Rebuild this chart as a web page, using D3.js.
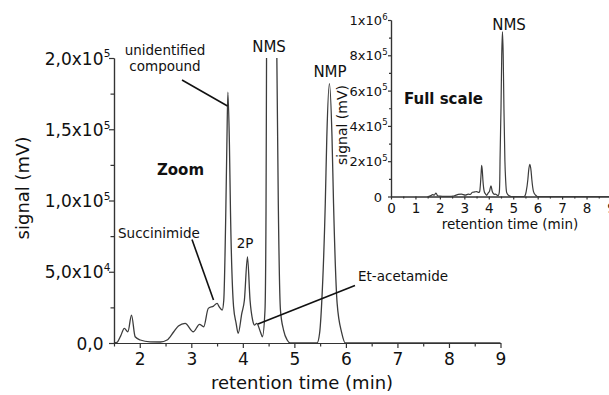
<!DOCTYPE html>
<html>
<head>
<meta charset="utf-8">
<script src="https://cdn.jsdelivr.net/npm/d3@7"></script>
<style>
  body { margin: 0; background: #fff; }
  text { font-family: "DejaVu Sans", sans-serif; fill: #111; }
</style>
</head>
<body>
<div id="chart"></div>
<script>
(function(){

// chromatogram: retention time (min) and signal (mV)
var times = [1.50, 1.56, 1.63, 1.70, 1.77, 1.84, 1.91, 2.01, 2.20, 2.40, 2.53, 2.66, 2.75, 2.88,
             3.04, 3.16, 3.24, 3.33, 3.43, 3.50, 3.54, 3.60, 3.63, 3.67, 3.69, 3.71, 3.74, 3.76,
             3.82, 3.87, 3.91, 3.98, 4.03, 4.09, 4.14, 4.19, 4.23, 4.27, 4.34, 4.38, 4.43, 4.45,
             4.46, 4.50, 4.53, 4.56, 4.59, 4.62, 4.66, 4.69, 4.73, 4.79, 4.86, 4.92, 5.20, 5.44,
             5.49, 5.53, 5.60, 5.63, 5.68, 5.73, 5.76, 5.83, 5.92, 5.99, 6.50, 7.50, 9.00];
var signal = [0, 500, 5000, 10300, 7900, 19600, 4400, 2100, 800, 700, 2100, 7900, 11900, 13800,
              7900, 13100, 11400, 24300, 25900, 27800, 25500, 23100, 30000, 93000, 139000, 176000, 139000, 93000,
              25500, 13800, 6800, 20800, 30000, 60500, 30000, 16100, 12600, 13800, 7900, 4400, 23100, 93000,
              200000, 500000, 800000, 934000, 800000, 500000, 200000, 93000, 23100, 9100, 2100, 0, 0, 0,
              7000, 27800, 98000, 145000, 182000, 145000, 98000, 27800, 7000, 0, 0, 0, 0];

// main (zoomed) axes
var xTicks = [2, 3, 4, 5, 6, 7, 8, 9];
var yTickVals = [0, 50000, 100000, 150000, 200000];
var yTickBase = ["0,0", "5,0x10", "1,0x10", "1,5x10", "2,0x10"];
var yTickExp = ["", "4", "5", "5", "5"];

// inset (full scale) axes
var insetXTicks = [0, 1, 2, 3, 4, 5, 6, 7, 8, 9];
var insetYTickVals = [0, 200000, 400000, 600000, 800000, 1000000];
var insetYTickBase = ["0", "2x10", "4x10", "6x10", "8x10", "1x10"];
var insetYTickExp = ["", "5", "5", "5", "5", "6"];

var data = times.map(function(t, i) { return {t: t, v: signal[i]}; });

var svg = d3.select("#chart")
  .append("svg")
    .attr("width", 609)
    .attr("height", 395);

var x = d3.scaleLinear().domain([1.5, 9]).range([114, 500.5]);
var y = d3.scaleLinear().domain([0, 200000]).range([343, 58]);

svg.append("clipPath").attr("id", "mainclip")
  .append("rect")
    .attr("x", 114).attr("y", 58)
    .attr("width", 390).attr("height", 290);

var line = d3.line()
    .x(function(d) { return x(d.t); })
    .y(function(d) { return y(d.v); })
    .curve(d3.curveMonotoneX);

svg.append("path")
    .datum(data)
    .attr("clip-path", "url(#mainclip)")
    .attr("fill", "none")
    .attr("stroke", "#3c3c3c")
    .attr("stroke-width", 1.3)
    .attr("d", line);

function styleAxis(g) {
  g.selectAll("path, line").attr("stroke", "#333").attr("stroke-width", 1.2);
  g.selectAll("text").style("font-family", "DejaVu Sans, sans-serif").attr("fill", "#111");
}

// minor ticks
svg.append("g")
    .attr("transform", "translate(0,343)")
    .call(d3.axisBottom(x).tickValues(d3.range(1.5, 9, 1)).tickSize(3.5).tickSizeOuter(0).tickFormat(""))
    .call(styleAxis);
svg.append("g")
    .attr("transform", "translate(114,0)")
    .call(d3.axisLeft(y).tickValues(d3.range(25000, 200000, 50000)).tickSize(3.5).tickSizeOuter(0).tickFormat(""))
    .call(styleAxis);

// major ticks
svg.append("g")
    .attr("transform", "translate(0,343)")
    .call(d3.axisBottom(x).tickValues(xTicks).tickSize(5).tickSizeOuter(0).tickPadding(5))
    .call(styleAxis)
    .selectAll("text").style("font-size", "17px");

var yAxis = svg.append("g")
    .attr("transform", "translate(114,0)")
    .call(d3.axisLeft(y).tickValues(yTickVals).tickSize(5).tickSizeOuter(0).tickFormat(""))
    .call(styleAxis);

function sciLabels(g, base, exp, off, size, supSize, dy) {
  g.selectAll(".tick").each(function(d, i) {
    var t = d3.select(this);
    t.append("text")
        .attr("x", -off).attr("y", dy)
        .attr("text-anchor", "end")
        .style("font-size", size + "px")
        .text(base[i]);
    if (exp[i]) {
      t.append("text")
          .attr("x", -off + 0.3).attr("y", dy - size * 0.42)
          .attr("text-anchor", "start")
          .style("font-size", supSize + "px")
          .text(exp[i]);
    }
  });
}
sciLabels(yAxis, yTickBase, yTickExp, 10.5, 17, 10.5, 6);

svg.append("text")
    .attr("x", 302).attr("y", 389)
    .attr("text-anchor", "middle")
    .style("font-size", "18px")
    .text("retention time (min)");

svg.append("text")
    .attr("transform", "translate(29,188) rotate(-90)")
    .attr("text-anchor", "middle")
    .style("font-size", "18px")
    .text("signal (mV)");

// peak annotations
var notes = svg.append("g");
notes.append("text").attr("x", 165).attr("y", 55).attr("text-anchor", "middle")
    .style("font-size", "13.5px").text("unidentified");
notes.append("text").attr("x", 165).attr("y", 71).attr("text-anchor", "middle")
    .style("font-size", "13.5px").text("compound");
notes.append("text").attr("x", 269).attr("y", 52).attr("text-anchor", "middle")
    .style("font-size", "15px").text("NMS");
notes.append("text").attr("x", 330).attr("y", 77).attr("text-anchor", "middle")
    .style("font-size", "15px").text("NMP");
notes.append("text").attr("x", 180.5).attr("y", 175).attr("text-anchor", "middle")
    .style("font-size", "15px").style("font-weight", "bold").text("Zoom");
notes.append("text").attr("x", 118).attr("y", 238)
    .style("font-size", "13.5px").text("Succinimide");
notes.append("text").attr("x", 245).attr("y", 248).attr("text-anchor", "middle")
    .style("font-size", "13.5px").text("2P");
notes.append("text").attr("x", 358).attr("y", 281)
    .style("font-size", "13.5px").text("Et-acetamide");

var pointers = [[182, 80, 227.5, 106], [192, 239.5, 213.5, 300], [355, 285.5, 258, 324]];
notes.selectAll("line")
    .data(pointers).enter()
    .append("line")
      .attr("x1", function(d) { return d[0]; })
      .attr("y1", function(d) { return d[1]; })
      .attr("x2", function(d) { return d[2]; })
      .attr("y2", function(d) { return d[3]; })
      .attr("stroke", "#111")
      .attr("stroke-width", 1.6);

// inset: full scale
var xi = d3.scaleLinear().domain([0, 9]).range([391, 611]);
var yi = d3.scaleLinear().domain([0, 1000000]).range([196.5, 20]);

svg.append("g")
    .attr("transform", "translate(0,196.5)")
    .call(d3.axisBottom(xi).tickValues(d3.range(0.5, 9, 1)).tickSize(2).tickSizeOuter(0).tickFormat(""))
    .call(styleAxis);
svg.append("g")
    .attr("transform", "translate(391,0)")
    .call(d3.axisLeft(yi).tickValues(d3.range(100000, 1000000, 200000)).tickSize(2).tickSizeOuter(0).tickFormat(""))
    .call(styleAxis);

svg.append("g")
    .attr("transform", "translate(0,196.5)")
    .call(d3.axisBottom(xi).tickValues(insetXTicks).tickSize(3).tickSizeOuter(0).tickPadding(4))
    .call(styleAxis)
    .selectAll("text").style("font-size", "13.5px");

var yiAxis = svg.append("g")
    .attr("transform", "translate(391,0)")
    .call(d3.axisLeft(yi).tickValues(insetYTickVals).tickSize(3).tickSizeOuter(0).tickFormat(""))
    .call(styleAxis);
sciLabels(yiAxis, insetYTickBase, insetYTickExp, 9, 13, 8.5, 4.5);

var linei = d3.line()
    .x(function(d) { return xi(d.t); })
    .y(function(d) { return yi(d.v); })
    .curve(d3.curveMonotoneX);

svg.append("path")
    .datum(data)
    .attr("fill", "none")
    .attr("stroke", "#3c3c3c")
    .attr("stroke-width", 1.2)
    .attr("d", linei);

svg.append("text")
    .attr("x", 510).attr("y", 229)
    .attr("text-anchor", "middle")
    .style("font-size", "13.5px")
    .text("retention time (min)");
svg.append("text")
    .attr("transform", "translate(347,125) rotate(-90)")
    .attr("text-anchor", "middle")
    .style("font-size", "14px")
    .text("signal (mV)");
svg.append("text")
    .attr("x", 404).attr("y", 104)
    .style("font-size", "15px").style("font-weight", "bold")
    .text("Full scale");
svg.append("text")
    .attr("x", 509).attr("y", 30)
    .attr("text-anchor", "middle")
    .style("font-size", "15px")
    .text("NMS");

})()
</script>
</body>
</html>
